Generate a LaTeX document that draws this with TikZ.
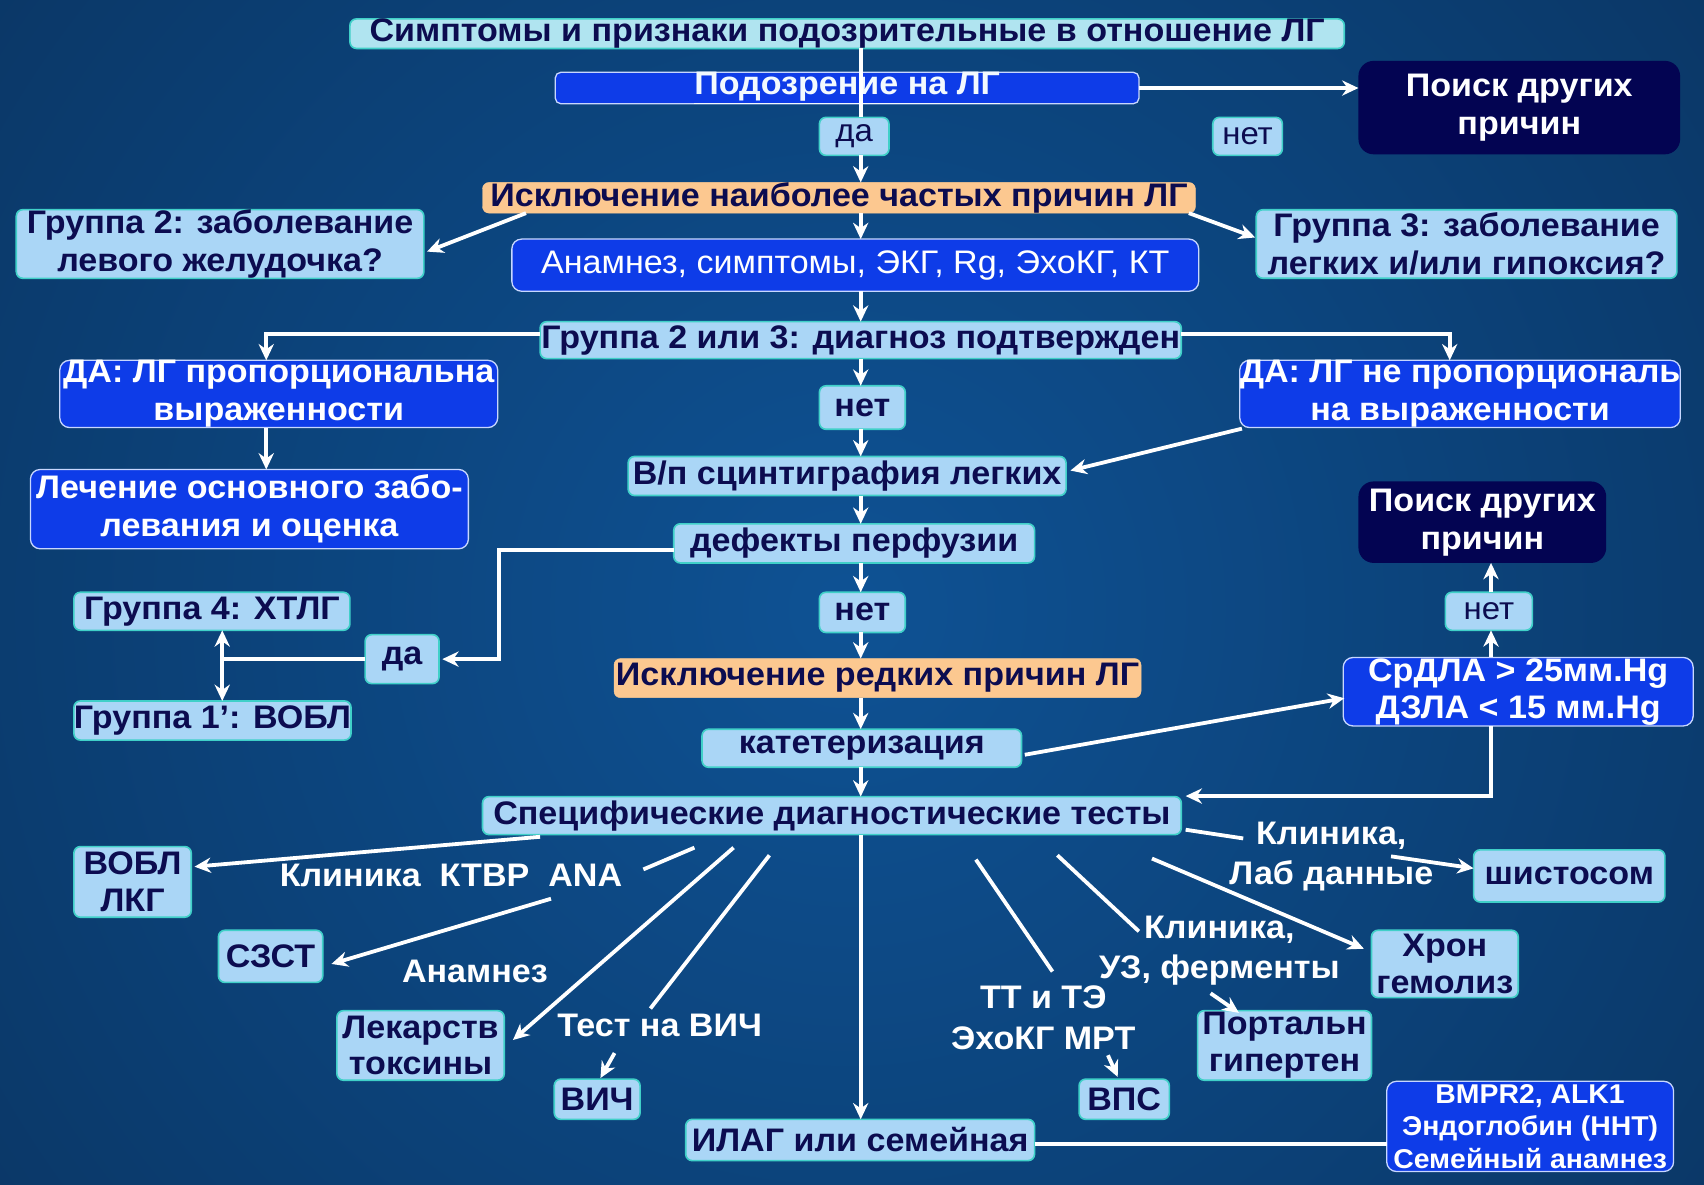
\documentclass[tikz,border=0pt]{standalone}
\usepackage{fontspec}
\setmainfont{Liberation Sans}[FakeStretch=1.045]
\usetikzlibrary{arrows.meta,calc}
\definecolor{bgin}{RGB}{14,82,148}
\definecolor{bgout}{RGB}{7,30,60}
\definecolor{lbfill}{RGB}{170,214,246}
\definecolor{lbdraw}{RGB}{64,208,200}
\definecolor{navy}{RGB}{12,12,80}
\definecolor{bfill}{RGB}{14,60,232}
\definecolor{bdraw}{RGB}{200,215,255}
\definecolor{dfill}{RGB}{3,4,82}
\definecolor{ofill}{RGB}{252,200,144}
\definecolor{sfill}{RGB}{176,228,240}
\tikzset{
  wh/.style 2 args={minimum width=#1pt, minimum height=#2pt},
  base/.style={inner sep=0pt, outer sep=0pt, align=center, font=\fontsize{30}{35}\selectfont\bfseries},
  lb/.style={base, fill=lbfill, draw=lbdraw, line width=1.5pt, text=navy, rounded corners=6pt},
  bb/.style={base, fill=bfill, draw=bdraw, line width=1.2pt, text=white, rounded corners=9pt},
  db/.style={base, fill=dfill, text=white, rounded corners=14pt},
  ob/.style={base, fill=ofill, draw=ofill, text=navy, rounded corners=6pt},
  lbl/.style={base, text=white, font=\fontsize{30}{37}\selectfont\bfseries},
  reg/.style={font=\fontsize{29}{34}\selectfont},
  conn/.style={draw=white, line width=3.5pt},
  arr/.style={conn, -{Stealth[length=15pt,width=14pt]}},
}
\begin{document}
\begin{tikzpicture}[x=1pt,y=-1pt]
\useasboundingbox (0,0) rectangle (1568,1090);
\begin{scope}
\clip (0,0) rectangle (1568,1090);
\fill[bgout] (0,0) rectangle (1568,1090);
\shade[inner color=bgin, outer color=bgout] (780,560) circle (1900pt);
\end{scope}

% nodes
\node[lb, fill=sfill, wh={915}{26}] (title) at (779.5,31) {Симптомы и признаки подозрительные в отношение ЛГ};
\node[bb, wh={537}{26}, text=white!85!lbfill, rounded corners=5pt] (susp) at (779.5,81) {\underline{Подозрение на ЛГ}};
\node[lb, reg, wh={64}{35}] (da1) at (786,125.5) {да};
\node[lb, reg, wh={64}{35}] (net1) at (1148,125.5) {нет};
\node[db, wh={296}{86}] (poisk1) at (1398,99) {Поиск других\\причин};
\node[ob, wh={656}{28}] (isk1) at (772,182) {Исключение наиболее частых причин ЛГ};
\node[lb, wh={375}{63}] (gr2) at (202.5,224.5) {Группа 2: заболевание\\левого желудочка?};
\node[lb, wh={387}{63}] (gr3) at (1349.5,224.5) {Группа 3: заболевание\\легких и/или гипоксия?};
\node[bb, wh={632}{48}, font=\fontsize{30}{35}\selectfont] (anam) at (787,244) {Анамнез, симптомы, ЭКГ, Rg, ЭхоКГ, КТ};
\node[lb, wh={590}{34}] (gr23) at (792,313) {Группа 2 или 3: диагноз подтвержден};
\node[bb, wh={403}{61}] (daL) at (256.5,362.5) {ДА: ЛГ пропорциональна\\выраженности};
\node[bb, wh={403}{61}] (daR) at (1343.5,362.5) {ДА: ЛГ не пропорциональ\\на выраженности};
\node[lb, wh={79}{40}] (net2) at (793.5,375) {нет};
\node[lb, wh={403}{36}] (scint) at (779.5,438) {В/п сцинтиграфия легких};
\node[bb, wh={403}{73}] (lech) at (229.5,468.5) {Лечение основного забо-\\левания и оценка};
\node[lb, wh={332}{36}] (defekt) at (786,500) {дефекты перфузии};
\node[db, wh={228}{75}] (poisk2) at (1364,480.5) {Поиск других\\причин};
\node[lb, wh={254}{35}] (gr4) at (195,562.5) {Группа 4: ХТЛГ};
\node[lb, wh={79}{37}] (net3) at (793.5,563.5) {нет};
\node[lb, reg, wh={80}{35}] (net4) at (1370,562.5) {нет};
\node[lb, wh={68}{45}] (da2) at (370,606.5) {да};
\node[ob, wh={485}{36}] (iskR) at (807.5,624) {Исключение редких причин ЛГ};
\node[bb, wh={322}{63}, font=\fontsize{30}{34}\selectfont\bfseries] (srdla) at (1397,636.5) {СрДЛА > 25мм.Hg\\ДЗЛА < 15 мм.Hg};
\node[lb, wh={255}{36}] (gr1) at (195.5,663) {Группа 1’: ВОБЛ};
\node[lb, wh={294}{35}] (kat) at (793,688.5) {катетеризация};
\node[lb, wh={643}{35}] (spec) at (765.5,750.5) {Специфические диагностические тесты};
\node[lb, wh={108}{65}, font=\fontsize{30}{34}\selectfont\bfseries] (vobl) at (122,811.5) {ВОБЛ\\ЛКГ};
\node[lb, wh={176}{48}] (shist) at (1444,806) {шистосом};
\node[lb, wh={96}{48}] (szst) at (249,880) {СЗСТ};
\node[lb, wh={135}{62}, font=\fontsize{30}{34}\selectfont\bfseries] (hron) at (1329.5,887) {Хрон\\гемолиз};
\node[lb, wh={154}{64}, font=\fontsize{30}{34}\selectfont\bfseries] (lek) at (387,962) {Лекарств\\токсины};
\node[lb, wh={160}{64}, font=\fontsize{30}{34}\selectfont\bfseries] (port) at (1182,962) {Портальн\\гипертен};
\node[lb, wh={79}{37}] (vich) at (549.5,1011.5) {ВИЧ};
\node[lb, wh={83}{37}] (vps) at (1034.5,1011.5) {ВПС};
\node[lb, wh={321}{38}] (ilag) at (791.5,1049) {ИЛАГ или семейная};
\node[bb, wh={264}{83}, font=\fontsize{25}{30}\selectfont\bfseries] (bmpr) at (1408,1036.5) {BMPR2, ALK1\\Эндоглобин (ННТ)\\Семейный анамнез};

% free labels
\node[lbl] (lblKl) at (415,806) {Клиника\ \ КТВР\ \ ANA};
\node[lbl] (lblAn) at (437,894) {Анамнез};
\node[lbl] (lblHIV) at (607,944) {Тест на ВИЧ};
\node[lbl] (lblLab) at (1225,788) {Клиника,\\Лаб данные};
\node[lbl] (lblUZ) at (1122,875) {Клиника,\\УЗ, ферменты};
\node[lbl] (lblTT) at (960,936.5) {ТТ и ТЭ\\ЭхоКГ МРТ};

% helper columns
\coordinate (sp) at (792,0);
\coordinate (cL) at (245,0);
\coordinate (cR) at (1334,0);
\coordinate (cW) at (1372,0);
\coordinate (jn) at (204.5,606.5);

% connectors
\draw[conn] (title.south -| sp) -- (da1.north -| sp);
\draw[arr] (da1.south -| sp) -- (isk1.north -| sp);
\draw[arr] (susp.east) -- (poisk1.west |- susp.east);
\draw[arr] (isk1.south -| sp) -- (anam.north -| sp);
\draw[arr] ($(isk1.south west)+(40,0)$) -- ($(gr2.east)+(3,7)$);
\draw[arr] ($(isk1.south east)+(-6,0)$) -- ($(gr3.west)+(-1,-6)$);
\draw[arr] (anam.south -| sp) -- (gr23.north -| sp);
\draw[arr] ($(gr23.west)+(0,-6)$) -| (daL.north -| cL);
\draw[arr] ($(gr23.east)+(0,-6)$) -| (daR.north -| cR);
\draw[arr] (gr23.south -| sp) -- (net2.north -| sp);
\draw[arr] (net2.south -| sp) -- (scint.north -| sp);
\draw[arr] ($(daR.south west)+(2,1)$) -- ($(scint.east)+(4,-5)$);
\draw[arr] (daL.south -| cL) -- (lech.north -| cL);
\draw[arr] (scint.south -| sp) -- (defekt.north -| sp);
\draw[arr] ($(defekt.west)+(0,6)$) -| ($(da2.east)+(55,0)$) -- ($(da2.east)+(3,0)$);
\draw[arr] (defekt.south -| sp) -- (net3.north -| sp);
\draw[arr] (net3.south -| sp) -- (iskR.north -| sp);
\draw[arr] (iskR.south -| sp) -- (kat.north -| sp);
\draw[arr] (kat.south -| sp) -- (spec.north -| sp);
\draw[conn] (da2.west) -- (jn);
\draw[arr] (jn) -- (jn |- gr4.south);
\draw[arr] (jn) -- (jn |- gr1.north);
\draw[arr] ($(kat.east)+(3,6)$) -- ($(srdla.west)+(1,6)$);
\draw[arr] (srdla.south -| cW) |- ($(spec.east)+(4,-18)$);
\draw[arr] (srdla.north -| cW) -- (net4.south -| cW);
\draw[arr] (net4.north -| cW) -- (poisk2.south -| cW);
\draw[arr] (spec.south -| sp) -- (ilag.north -| sp);
\draw[arr] ($(spec.south west)+(53,2)$) -- ($(vobl.east)+(3,-14)$);
\draw[conn] ($(spec.south west)+(195,12)$) -- ($(spec.south west)+(148,32)$);
\draw[arr] ($(szst.east)+(210,-53)$) -- ($(szst.east)+(8,7)$);
\draw[arr] ($(spec.south west)+(231,12)$) -- ($(lek.east)+(8,-5)$);
\draw[conn] ($(spec.south west)+(264,19)$) -- ($(vich.north)+(49,-65)$);
\draw[arr] ($(vich.north)+(16,-24)$) -- ($(vich.north)+(3,-1)$);
\draw[conn] ($(spec.south west)+(454,23)$) -- ($(vps.north)+(-66,-99)$);
\draw[arr] ($(vps.north)+(-15,-22)$) -- ($(vps.north)+(-6,-2)$);
\draw[conn] ($(spec.south west)+(529,19)$) -- ($(port.north)+(-134,-73)$);
\draw[arr] ($(port.north)+(-68,-16)$) -- ($(port.north)+(-42,2)$);
\draw[arr] ($(spec.south west)+(616,22)$) -- ($(hron.west)+(-7,-14)$);
\draw[conn] ($(spec.east)+(4,13)$) -- ($(spec.east)+(57,21)$);
\draw[arr] ($(shist.west)+(-76,-18)$) -- ($(shist.west)+(0,-7)$);
\draw[conn] ($(ilag.east)+(0,4)$) -- ($(bmpr.west |- ilag.east)+(0,4)$);
\end{tikzpicture}
\end{document}
